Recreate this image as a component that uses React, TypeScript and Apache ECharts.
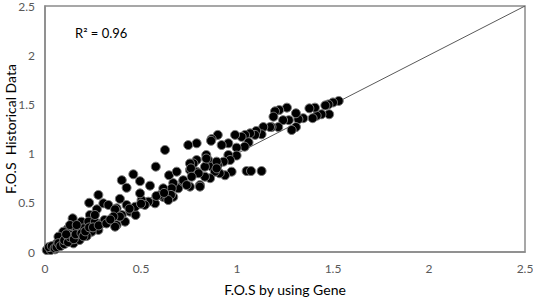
import React, { useEffect, useRef } from "react";
import * as echarts from "echarts";

const xTicks = [0, 0.5, 1, 1.5, 2, 2.5];
const xAxisTitle = "F.O.S by using Gene";
const yAxisTitle = "F.O.S  Historical Data";
const rSquaredLabel = "R² = 0.96";
const fitLineX = [0, 2.5];
const fitLineY = [0, 2.5];

const geneX = [
  1.53, 1.5, 1.476, 1.46, 1.48, 1.44, 1.415, 1.394, 1.406, 1.377, 1.345, 1.32, 1.307, 1.307, 1.285, 1.27, 1.26, 1.24, 1.22, 1.215, 1.198, 1.19, 1.18,
  1.172, 1.137, 1.128, 1.1, 1.094, 1.068, 1.042, 1.024, 0.99, 1.06, 1.04, 0.998, 0.955, 0.92, 0.9, 0.868, 0.998, 0.955, 0.964, 0.93, 0.84, 0.85, 0.79, 0.79, 0.9, 0.868, 0.833, 0.972, 0.9375, 0.91, 0.885, 0.86, 0.833, 0.807, 0.79, 1.05, 1.073, 1.128,
  0.865, 0.755, 0.807, 0.668, 0.616, 0.694, 0.72, 0.755, 0.773, 0.84, 0.894, 0.894,
  0.625, 0.746, 0.577, 0.755, 0.76, 0.8, 0.764, 0.646, 0.686, 0.72, 0.738, 0.668, 0.66, 0.616, 0.656, 0.642, 0.6, 0.573, 0.547, 0.538, 0.503, 0.46, 0.495, 0.4, 0.425, 0.495, 0.39, 0.425, 0.443, 0.472, 0.4, 0.417, 0.373, 0.373, 0.52, 0.47,
  0.278, 0.304, 0.33, 0.23, 0.27, 0.365, 0.39, 0.356, 0.234, 0.144, 0.19, 0.226, 0.26, 0.295, 0.31, 0.365, 0.278, 0.243, 0.2, 0.156, 0.12, 0.139, 0.174, 0.095, 0.113, 0.078, 0.061, 0.043, 0.017, 0.009, 0.148, 0.087, 0.052, 0.18, 0.217, 0.095, 0.07, 0.13, 0.165, 0.26,
  0.03, 0.02, 0.035, 0.05, 0.06, 0.07, 0.08, 0.1, 0.1, 0.12, 0.13, 0.11, 0.15, 0.16, 0.19, 0.2, 0.21, 0.23, 0.25, 0.28, 0.32, 0.34, 0.44, 0.5, 0.58, 0.62
];
const historicalY = [
  1.535, 1.52, 1.5, 1.49, 1.4, 1.4, 1.385, 1.36, 1.467, 1.46, 1.36, 1.35, 1.41, 1.27, 1.24, 1.34, 1.467, 1.34, 1.443, 1.27, 1.43, 1.375, 1.27,
  1.27, 1.27, 1.196, 1.23, 1.19, 1.206, 1.19, 1.17, 1.19, 1.115, 1.07, 1.06, 1.105, 1.087, 1.19, 1.148, 0.98, 0.986, 0.935, 0.918, 0.986, 0.935, 1.105, 0.935, 0.884, 0.867, 0.867, 0.816, 0.78, 0.8, 0.816, 0.75, 0.765, 0.68, 0.816, 0.823, 0.823, 0.823,
  1.13, 0.664, 0.664, 0.56, 0.56, 0.647, 0.714, 0.833, 0.9, 0.95, 0.918, 0.85,
  1.037, 1.087, 0.867, 0.9, 0.85, 0.8, 0.765, 0.78, 0.816, 0.73, 0.68, 0.7, 0.647, 0.647, 0.58, 0.528, 0.58, 0.495, 0.674, 0.511, 0.528, 0.79, 0.72, 0.73, 0.653, 0.596, 0.54, 0.478, 0.41, 0.376, 0.376, 0.308, 0.444, 0.274, 0.478, 0.46,
  0.58, 0.495, 0.478, 0.5, 0.434, 0.434, 0.36, 0.36, 0.376, 0.342, 0.308, 0.308, 0.308, 0.292, 0.325, 0.257, 0.224, 0.206, 0.24, 0.224, 0.24, 0.173, 0.156, 0.173, 0.122, 0.122, 0.088, 0.054, 0.037, 0.02, 0.088, 0.07, 0.027, 0.122, 0.163, 0.206, 0.156, 0.274, 0.274, 0.376,
  0.02, 0.05, 0.06, 0.04, 0.05, 0.09, 0.06, 0.08, 0.12, 0.1, 0.15, 0.18, 0.13, 0.18, 0.19, 0.16, 0.21, 0.25, 0.25, 0.27, 0.29, 0.33, 0.44, 0.49, 0.57, 0.6
];

export default function App() {
  const ref = useRef<HTMLDivElement>(null);
  useEffect(() => {
    if (!ref.current) return;
    const chart = echarts.init(ref.current, undefined, { renderer: "svg" });
    const points = geneX.map((x, i) => [x, historicalY[i]]);
    const line = fitLineX.map((x, i) => [x, fitLineY[i]]);
    const axisLabel = { color: "#595959", fontSize: 12, fontFamily: "Lato", margin: 10 };
    chart.setOption({
      animation: false,
      backgroundColor: "#fff",
      grid: {
        left: 45, right: 8, top: 6, bottom: 46, show: true,
        borderColor: "#8a8a8a", borderWidth: 1.5,
        containLabel: false, outerBoundsMode: "none",
      },
      xAxis: {
        type: "value", min: 0, max: 2.5, interval: 0.5,
        name: xAxisTitle, nameLocation: "middle", nameGap: 30, nameMoveOverlap: false,
        nameTextStyle: { color: "#000", fontSize: 14, fontFamily: "Lato" },
        axisLine: { show: true, lineStyle: { color: "#8a8a8a", width: 1.5 } },
        axisTick: { show: false }, splitLine: { show: false },
        axisLabel: { ...axisLabel, formatter: (v: number) => (xTicks.includes(v) ? String(v) : "") },
      },
      yAxis: {
        type: "value", min: 0, max: 2.5, interval: 0.5,
        name: yAxisTitle, nameLocation: "middle", nameGap: 28, nameMoveOverlap: false,
        nameTextStyle: { color: "#000", fontSize: 14, fontFamily: "Lato" },
        axisLine: { show: true, lineStyle: { color: "#8a8a8a", width: 1.5 } },
        axisTick: { show: false }, splitLine: { show: false },
        axisLabel,
      },
      graphic: [
        { type: "text", left: 75, top: 26, style: { text: rSquaredLabel, fill: "#000", fontSize: 13, fontFamily: "Lato" } },
      ],
      series: [
        {
          type: "line", data: line, symbol: "none",
          lineStyle: { color: "#595959", width: 1 }, z: 1,
        },
        {
          type: "scatter", data: points, symbolSize: 9,
          itemStyle: { color: "#000", borderColor: "#7a7a7a", borderWidth: 1, opacity: 1 }, z: 2,
        },
      ],
    });
    return () => chart.dispose();
  }, []);
  return <div ref={ref} style={{ width: 533, height: 298, position: "absolute", left: 0, top: 0 }} />;
}
